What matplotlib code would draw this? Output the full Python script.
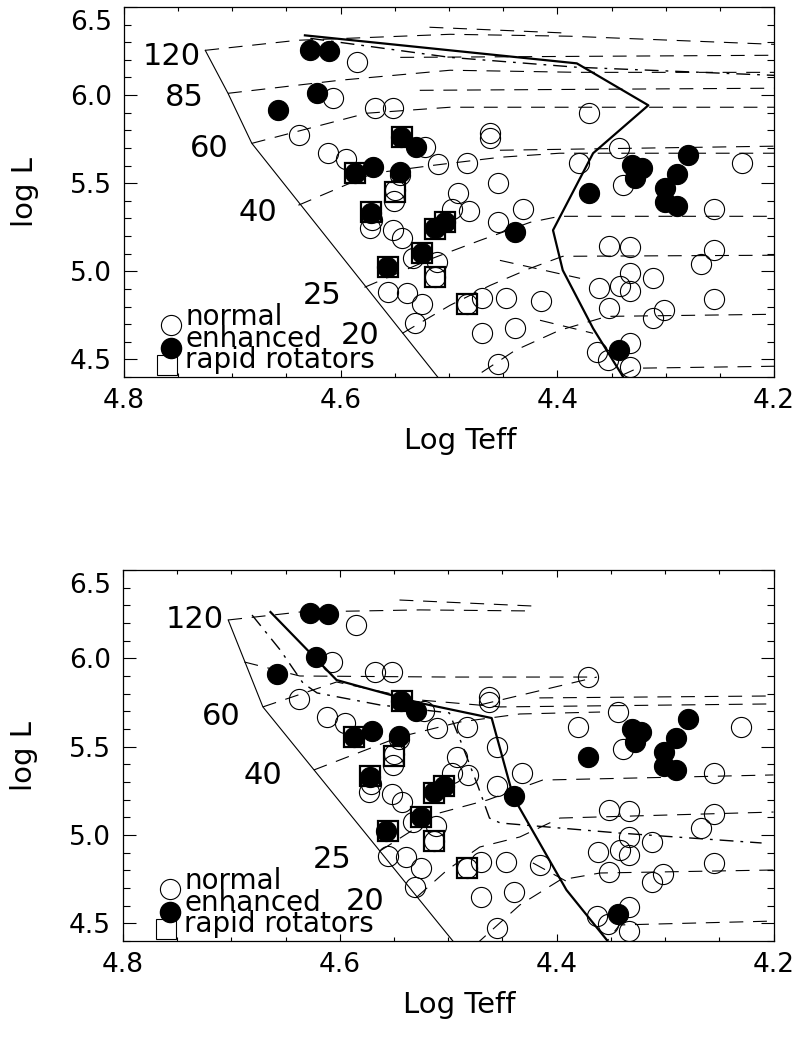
import numpy as np
import matplotlib.pyplot as plt
from matplotlib.ticker import MultipleLocator, FormatStrFormatter

plt.rcParams['font.family'] = ['DejaVu Sans']
plt.rcParams['lines.scale_dashes'] = False

# stars (same sample in both panels)
teff_normal = [4.585, 4.607, 4.568, 4.552, 4.638, 4.612, 4.595, 4.522, 4.510, 4.545,
               4.550, 4.551, 4.571, 4.573, 4.552, 4.543, 4.533, 4.511, 4.513, 4.556,
               4.539, 4.525, 4.531, 4.371, 4.462, 4.462, 4.343, 4.483, 4.380, 4.230,
               4.455, 4.339, 4.492, 4.497, 4.482, 4.432, 4.455, 4.255, 4.352, 4.333,
               4.255, 4.267, 4.333, 4.312, 4.362, 4.342, 4.333, 4.470, 4.447, 4.415,
               4.352, 4.302, 4.312, 4.255, 4.483, 4.470, 4.439, 4.363, 4.333, 4.353,
               4.333, 4.455]
logl_normal = [6.186, 5.982, 5.925, 5.925, 5.772, 5.670, 5.636, 5.704, 5.607, 5.545,
               5.460, 5.397, 5.289, 5.244, 5.233, 5.187, 5.074, 5.051, 4.966, 4.881,
               4.876, 4.813, 4.705, 5.897, 5.783, 5.755, 5.698, 5.613, 5.613, 5.613,
               5.499, 5.488, 5.443, 5.352, 5.340, 5.352, 5.278, 5.352, 5.142, 5.136,
               5.119, 5.040, 4.988, 4.960, 4.903, 4.915, 4.886, 4.847, 4.847, 4.830,
               4.790, 4.779, 4.733, 4.841, 4.813, 4.648, 4.676, 4.540, 4.591, 4.495,
               4.455, 4.472]

teff_enh = [4.628, 4.611, 4.622, 4.658, 4.544, 4.530, 4.570, 4.545, 4.587, 4.572,
            4.513, 4.504, 4.525, 4.557, 4.439, 4.331, 4.322, 4.328, 4.279, 4.290,
            4.301, 4.301, 4.290, 4.371, 4.343]
logl_enh = [6.254, 6.249, 6.010, 5.914, 5.760, 5.704, 5.590, 5.562, 5.556, 5.329,
            5.244, 5.278, 5.102, 5.023, 5.221, 5.601, 5.584, 5.528, 5.658, 5.550,
            5.471, 5.391, 5.369, 5.443, 4.551]

teff_rot = [4.543, 4.587, 4.550, 4.572, 4.513, 4.504, 4.525, 4.556, 4.513, 4.483]
logl_rot = [5.760, 5.556, 5.449, 5.335, 5.238, 5.278, 5.102, 5.023, 4.966, 4.813]

# upper panel: tracks without rotation
top_zams_teff = [4.725, 4.704, 4.682, 4.504]
top_zams_logl = [6.254, 6.010, 5.726, 4.350]
top_limit_teff = [4.633, 4.499, 4.382, 4.316, 4.367, 4.404, 4.395, 4.367, 4.339, 4.333]
top_limit_logl = [6.339, 6.254, 6.180, 5.942, 5.670, 5.233, 5.006, 4.676, 4.398, 4.350]
top_dd_teff = [4.628, 4.499, 4.382, 4.200]
top_dd_logl = [6.322, 6.214, 6.158, 6.112]
top_tracks = [
    ([4.725, 4.640, 4.499, 4.388, 4.200], [6.254, 6.311, 6.345, 6.334, 6.288]),
    ([4.518, 4.388], [6.385, 6.351]),
    ([4.704, 4.601, 4.499, 4.379, 4.200], [6.010, 6.084, 6.141, 6.129, 6.129]),
    ([4.545, 4.200], [6.214, 6.226]),
    ([4.527, 4.200], [6.027, 6.039]),
    ([4.682, 4.576, 4.499, 4.200], [5.726, 5.897, 5.931, 5.931]),
    ([4.639, 4.570, 4.515, 4.453, 4.398, 4.200], [5.375, 5.556, 5.601, 5.647, 5.670, 5.670]),
    ([4.453, 4.200], [5.687, 5.710]),
    ([4.578, 4.515, 4.471, 4.425, 4.398, 4.200], [4.909, 5.074, 5.176, 5.278, 5.312, 5.312]),
    ([4.543, 4.499, 4.462, 4.425, 4.395, 4.200], [4.648, 4.807, 4.920, 5.017, 5.085, 5.091]),
    ([4.453, 4.379], [5.062, 4.960]),
    ([4.488, 4.439, 4.398, 4.354, 4.200], [4.352, 4.551, 4.665, 4.744, 4.756]),
    ([4.416, 4.367], [4.722, 4.648]),
    ([4.361, 4.326, 4.200], [4.352, 4.450, 4.461]),
]
top_masses = ['120', '85', '60', '40', '25', '20']
top_mass_teff = [4.756, 4.744, 4.721, 4.676, 4.617, 4.582]
top_mass_logl = [6.220, 5.987, 5.698, 5.334, 4.864, 4.637]

# lower panel: tracks with rotation
bot_zams_teff = [4.703, 4.671, 4.489]
bot_zams_logl = [6.217, 5.725, 4.349]
bot_limit_teff = [4.664, 4.603, 4.526, 4.460, 4.440, 4.391, 4.353, 4.349]
bot_limit_logl = [6.262, 5.877, 5.747, 5.662, 5.215, 4.689, 4.400, 4.349]
bot_dd_teff = [4.681, 4.655, 4.634, 4.621, 4.563, 4.499, 4.489, 4.473, 4.462, 4.452, 4.342, 4.211]
bot_dd_logl = [6.245, 6.047, 5.860, 5.804, 5.736, 5.691, 5.538, 5.283, 5.096, 5.068, 5.011, 4.955]
bot_tracks = [
    ([4.703, 4.637, 4.526, 4.422], [6.217, 6.262, 6.274, 6.268]),
    ([4.545, 4.422], [6.330, 6.296]),
    ([4.688, 4.637, 4.499, 4.363], [5.979, 5.900, 5.894, 5.894]),
    ([4.471, 4.363], [5.736, 5.894]),
    ([4.671, 4.603, 4.526, 4.452, 4.200], [5.725, 5.866, 5.764, 5.725, 5.742]),
    ([4.416, 4.200], [5.776, 5.787]),
    ([4.624, 4.545, 4.489, 4.434, 4.360], [5.368, 5.555, 5.640, 5.685, 5.696]),
    ([4.563, 4.508, 4.464, 4.413, 4.200], [4.910, 5.125, 5.198, 5.311, 5.340]),
    ([4.529, 4.501, 4.471, 4.434, 4.397, 4.200], [4.649, 4.802, 4.932, 4.989, 5.096, 5.130]),
    ([4.422, 4.388], [4.842, 4.728]),
    ([4.475, 4.434, 4.397, 4.360, 4.200], [4.378, 4.604, 4.745, 4.785, 4.802]),
    ([4.360, 4.342, 4.200], [4.349, 4.491, 4.513]),
]
bot_masses = ['120', '60', '40', '25', '20']
bot_mass_teff = [4.734, 4.709, 4.671, 4.607, 4.577]
bot_mass_logl = [6.217, 5.673, 5.334, 4.859, 4.621]


def draw_panel(ax, zams, limit, dd, tracks, masses, mteff, mlogl):
    ax.plot(zams[0], zams[1], color='k', lw=0.8)
    for t, l in tracks:
        ax.plot(t, l, color='k', lw=0.8, dashes=(10, 7))
    ax.plot(dd[0], dd[1], color='k', lw=1.0, dashes=(10, 5, 2, 5))
    ax.plot(limit[0], limit[1], color='k', lw=1.6)

    ax.plot(teff_normal, logl_normal, 'o', ms=14.5, mfc='none', mec='k', mew=0.8)
    ax.plot(teff_enh, logl_enh, 'o', ms=14.5, mfc='k', mec='k', mew=0.8)
    ax.plot(teff_rot, logl_rot, 's', ms=14.5, mfc='none', mec='k', mew=1.6)

    for m, x, y in zip(masses, mteff, mlogl):
        ax.text(x, y, m, fontsize=22, ha='center', va='center')

    # legend
    ax.plot([0.072], [0.1405], 'o', ms=14.5, mfc='none', mec='k', mew=0.8, transform=ax.transAxes)
    ax.plot([0.072], [0.078], 'o', ms=14.5, mfc='k', mec='k', transform=ax.transAxes)
    ax.plot([0.066], [0.032], 's', ms=14.5, mfc='none', mec='k', mew=0.8, transform=ax.transAxes)
    ax.text(0.094, 0.1405, 'normal', fontsize=20, va='baseline', transform=ax.transAxes)
    ax.text(0.094, 0.081, 'enhanced', fontsize=20, va='baseline', transform=ax.transAxes)
    ax.text(0.094, 0.024, 'rapid rotators', fontsize=20, va='baseline', transform=ax.transAxes)

    ax.set_xlim(4.8, 4.2)
    ax.set_ylim(4.4, 6.5)
    ax.xaxis.set_major_locator(MultipleLocator(0.2))
    ax.xaxis.set_minor_locator(MultipleLocator(0.05))
    ax.set_yticks([4.5, 5.0, 5.5, 6.0, 6.5])
    ax.set_yticklabels(['4.5', '5.0', '5.5', '6.0', ''])
    ax.yaxis.set_minor_locator(MultipleLocator(0.1))
    ax.xaxis.set_major_formatter(FormatStrFormatter('%.1f'))
    ax.tick_params(which='both', direction='in', top=True, right=True, labelsize=19, width=0.8)
    ax.tick_params(axis='y', which='major', length=9.4, pad=8.6)
    ax.tick_params(axis='y', which='minor', length=4.7)
    ax.tick_params(axis='x', which='major', length=5.3, pad=8)
    ax.tick_params(axis='x', which='minor', length=2.7)
    ax.annotate('6.5', xy=(0, 6.5), xycoords=('axes fraction', 'data'),
                xytext=(-8.6, -2), textcoords='offset points',
                ha='right', va='top', fontsize=19)
    for s in ax.spines.values():
        s.set_linewidth(0.9)

    ax.set_xlabel('Log Teff', fontsize=21)
    ax.set_ylabel('log L', fontsize=21)
    ax.xaxis.set_label_coords(0.517, -0.135)
    ax.yaxis.set_label_coords(-0.13, 0.5)


fig = plt.figure(figsize=(8.01, 10.42), dpi=100)
ax1 = fig.add_axes([0.1548, 0.6382, 0.8115, 0.3551])
ax2 = fig.add_axes([0.1536, 0.0969, 0.8121, 0.3561])

draw_panel(ax1, (top_zams_teff, top_zams_logl), (top_limit_teff, top_limit_logl),
           (top_dd_teff, top_dd_logl), top_tracks, top_masses, top_mass_teff, top_mass_logl)
draw_panel(ax2, (bot_zams_teff, bot_zams_logl), (bot_limit_teff, bot_limit_logl),
           (bot_dd_teff, bot_dd_logl), bot_tracks, bot_masses, bot_mass_teff, bot_mass_logl)

fig.savefig('out.png', dpi=100)
